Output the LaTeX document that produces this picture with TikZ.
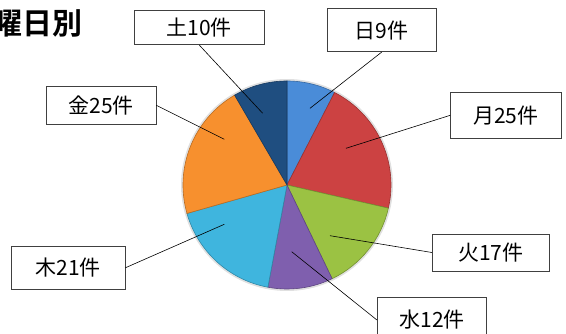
\documentclass[tikz,border=0pt]{standalone}
\usepackage{fontspec}
\setmainfont{Noto Sans CJK JP}[BoldFont={Noto Sans CJK JP Bold}]
\usepackage{tikz}

\definecolor{sunblue}{HTML}{4A8CD8}
\definecolor{monred}{HTML}{CC4242}
\definecolor{tuegreen}{HTML}{9BC243}
\definecolor{wedpurple}{HTML}{7F5FAE}
\definecolor{thucyan}{HTML}{3FB5DE}
\definecolor{friorange}{HTML}{F7902E}
\definecolor{satnavy}{HTML}{1F4E80}

\tikzset{
	daybox/.style={draw=black!75, line width=0.8pt, fill=white, inner sep=0pt,
		font=\fontsize{21}{24}\selectfont},
	leader/.style={draw=black, line width=0.6pt}
}

\begin{document}
\begin{tikzpicture}[x=1pt,y=1pt]
		\newcommand\pieslice[3]{ %% argument 1: start angle, argument 2: end angle, argument 3: colour
			\filldraw[fill=#3, draw=#3!75!black, line width=0.6pt] (c) -- ++(#1:104pt)
				arc[start angle=#1, end angle=#2, radius=104pt] -- cycle;
		}
		
		\clip (0,0) rectangle (566,334);
		
		\node[anchor=west, font=\fontsize{30}{34}\selectfont\bfseries, inner sep=0pt] (title) at (-8,311) {曜日別};
		
		\coordinate (c) at (287,149);
		\fill[black, opacity=0.12] (c) circle (106pt);
		
		\pieslice{90}{62.77}{sunblue}
		\pieslice{62.77}{-12.86}{monred}
		\pieslice{-12.86}{-64.29}{tuegreen}
		\pieslice{-64.29}{-100.59}{wedpurple}
		\pieslice{-100.59}{-164.12}{thucyan}
		\pieslice{-164.12}{-239.75}{friorange}
		\pieslice{-239.75}{-270}{satnavy}
		
		%% label boxes
		\node[daybox, minimum width=108.7pt, minimum height=43pt] (sun) at (381.7,303.8) {日9件};
		\node[daybox, minimum width=110.3pt, minimum height=46pt] (mon) at (505.8,218.7) {月25件};
		\node[daybox, minimum width=117pt, minimum height=37pt] (tue) at (490.8,81.5) {火17件};
		\node[daybox, minimum width=109.4pt, minimum height=45pt] (wed) at (432,14) {水12件};
		\node[daybox, minimum width=113.3pt, minimum height=42.3pt] (thu) at (68.3,66.2) {木21件};
		\node[daybox, minimum width=109.3pt, minimum height=37.3pt] (fri) at (101.3,228.7) {金25件};
		\node[daybox, minimum width=129.3pt, minimum height=34pt] (sat) at (199.3,306.3) {土10件};
		
		%% leader ends inside the slices
		\coordinate (sunend) at (310,225.7);
		\coordinate (monend) at (346,185.7);
		\coordinate (tueend) at (330,98.3);
		\coordinate (wedend) at (291.7,82.3);
		\coordinate (thuend) at (224.3,109.7);
		\coordinate (friend) at (224.3,194.7);
		\coordinate (satend) at (262.7,220.7);
		
		\draw[leader] (sun.south) -- (sunend);
		\draw[leader] (mon.west) -- (monend);
		\draw[leader] (tue.west) -- (tueend);
		\draw[leader] (wed.west) -- (wedend);
		\draw[leader] (thu.east) -- (thuend);
		\draw[leader] (fri.east) -- (friend);
		\draw[leader] (sat.south) -- (satend);
	\end{tikzpicture}
\end{document}
